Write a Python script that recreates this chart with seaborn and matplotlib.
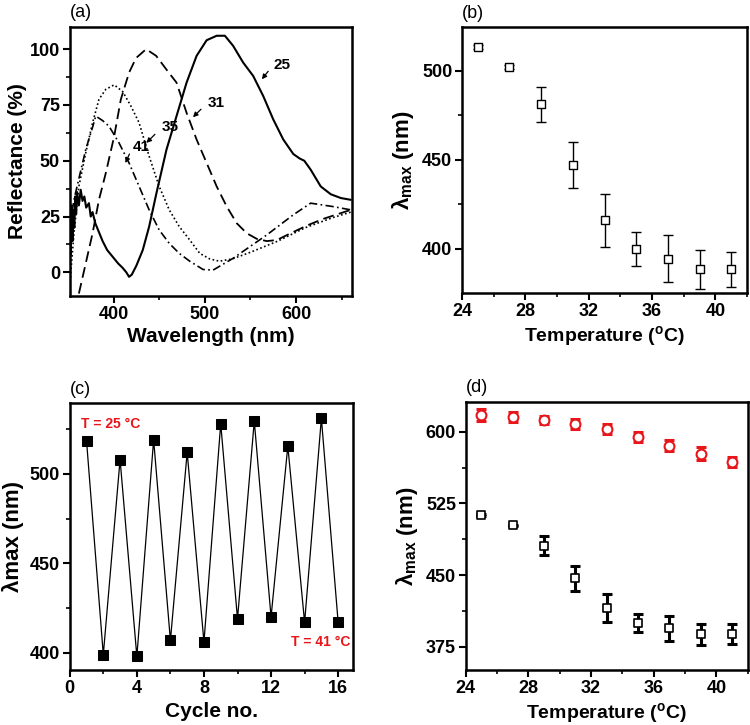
import numpy as np
import pandas as pd
import matplotlib
matplotlib.use("Agg")
import matplotlib.pyplot as plt
import seaborn as sns
from matplotlib.ticker import MultipleLocator

# ---------------- data ----------------
# (a) reflectance spectra (wavelength nm, reflectance %)
wl_25 = [352, 353, 354, 355, 356, 357, 358, 359, 360, 362, 364, 366, 368, 370, 373, 375, 377, 380, 384, 388, 393,
         399, 405, 410, 414, 417, 420, 425, 432, 439, 447, 458, 469, 480, 491, 502, 513, 522,
         531, 542, 553, 564, 575, 586, 597, 604, 609, 616, 627, 638, 649, 660]
r_25 = [25, 8, 30, 14, 28, 20, 34, 26, 36, 30, 37, 32, 34, 29, 31, 25, 27, 22, 18, 14, 10,
        7, 4, 2, 0, -2, -1, 3, 10, 20.5, 35.5, 55, 70, 85, 97, 104, 106, 106,
        101.5, 94, 88, 79, 68.5, 59.5, 53, 51, 50, 46, 38.5, 35, 33.3, 32.5]

wl_31 = [362, 369.5, 377, 384, 391.5, 400.7, 408, 417, 424.6, 435.7, 446.7, 457.7, 469, 480,
         491, 502, 513, 524, 535, 546, 557, 568, 579, 594, 612, 630, 660]
r_31 = [-9.5, 4, 17.5, 32.5, 44.5, 61, 77.5, 89.5, 96, 100, 97, 91, 85, 71.5,
        59.5, 49, 38.5, 29.5, 22, 17.5, 15, 14, 14.5, 17.5, 21, 24, 28]

wl_35 = [352, 356.6, 362, 369.5, 377, 384, 391.5, 400.7, 410, 419, 428, 439, 450, 461,
         472, 483.5, 494.5, 505.5, 516, 530, 550, 580, 610, 640, 660]
r_35 = [-6, 17.5, 38.5, 53.5, 67, 77.5, 82, 84, 81, 74.5, 67, 52, 38.5, 28,
        20.5, 14.5, 8.5, 6, 5, 6, 9, 14, 20, 24.5, 27]

wl_41 = [352, 356.6, 362, 369.5, 377, 380.5, 388, 395, 406, 417, 428, 439, 450, 461,
         472, 483.5, 498, 509, 531, 568, 597, 616, 640, 660]
r_41 = [20, 32.5, 42, 55, 65, 70, 68, 65.5, 58, 49, 38.5, 28, 19, 13,
        8.5, 5, 1.3, 1, 6.3, 16.8, 25.8, 31, 29.5, 28]

# (b)/(d) lambda_max vs temperature
temp = [25, 27, 29, 31, 33, 35, 37, 39, 41]
lam_first = [513, 502, 481, 447, 416, 400, 394.5, 388.5, 388.5]
err_first = [1.2, 1.0, 10, 13, 14.7, 9.5, 13, 11, 10]
lam_second = [617.5, 615.5, 612, 608, 603, 594.5, 585.5, 577, 568.5]
err_second = [6, 5.5, 4, 5, 5, 5.5, 6, 7, 5.5]

# (c) cycling
cycle = list(range(1, 17))
lam_cycle = [518.5, 399, 508, 398, 519, 407, 512, 406, 528, 419, 529.5, 420, 515.5, 417, 531, 417]

# ---------------- style ----------------
sns.set_theme(style="ticks")
plt.rcParams["font.family"] = ["Liberation Sans", "DejaVu Sans"]
plt.rcParams["font.weight"] = "bold"
plt.rcParams["axes.labelweight"] = "bold"
plt.rcParams["text.color"] = "black"
plt.rcParams["axes.labelcolor"] = "black"
plt.rcParams["xtick.color"] = "black"
plt.rcParams["ytick.color"] = "black"
plt.rcParams["mathtext.fontset"] = "custom"
plt.rcParams["mathtext.rm"] = "Liberation Sans:bold"
plt.rcParams["mathtext.it"] = "Liberation Sans:bold"
plt.rcParams["mathtext.bf"] = "Liberation Sans:bold"

RED = "#e8161b"
fig = plt.figure(figsize=(7.5, 7.25), dpi=100)

axA = fig.add_axes([0.093, 0.592, 0.376, 0.371])
axB = fig.add_axes([0.616, 0.596, 0.380, 0.367])
axC = fig.add_axes([0.093, 0.076, 0.378, 0.368])
axD = fig.add_axes([0.621, 0.076, 0.376, 0.370])


def style_ax(ax):
    for s in ax.spines.values():
        s.set_linewidth(1.8)
        s.set_color("black")
    ax.tick_params(which="major", direction="out", length=5, width=1.5,
                   labelsize=13, colors="black", labelcolor="black", pad=2)
    ax.tick_params(which="minor", direction="out", length=3, width=1.2, colors="black")
    for lab in ax.get_xticklabels() + ax.get_yticklabels():
        lab.set_fontweight("bold")


# ---- (a) ----
specs = [(wl_25, r_25, "-", 1.5), (wl_31, r_31, (0, (6, 3)), 1.3),
         (wl_35, r_35, (0, (1, 1.5)), 1.2), (wl_41, r_41, (0, (5, 2, 1, 2)), 1.2)]
for wl, r, ls, lw in specs:
    df = pd.DataFrame({"wl": wl, "r": r})
    sns.lineplot(data=df, x="wl", y="r", ax=axA, color="black", linestyle=ls,
                 linewidth=lw, sort=False, estimator=None)
axA.set_xlim(352, 661)
axA.set_ylim(-10.5, 110)
axA.xaxis.set_major_locator(MultipleLocator(100))
axA.xaxis.set_minor_locator(MultipleLocator(50))
axA.yaxis.set_major_locator(MultipleLocator(25))
axA.yaxis.set_minor_locator(MultipleLocator(12.5))
axA.set_xlabel("Wavelength (nm)", fontsize=15, fontweight="bold", labelpad=3)
axA.set_ylabel("Reflectance (%)", fontsize=15, fontweight="bold", labelpad=2)
arrow = dict(arrowstyle="-|>", color="black", lw=0.9, mutation_scale=7, shrinkA=0, shrinkB=0)
for txt, tx, ty, ax_, ay_ in [("25", 575, 93, 562.5, 86.5), ("31", 503, 76, 487, 69.5),
                              ("35", 453, 65, 436, 58), ("41", 421, 56.3, 413, 49)]:
    axA.annotate("", xy=(ax_, ay_), xytext=(ax_ + (tx - ax_) * 0.55, ay_ + (ty - ay_) * 0.55),
                 arrowprops=arrow)
    axA.text(tx, ty, txt, fontsize=11, fontweight="bold", color="black", ha="left", va="center")
style_ax(axA)

# ---- (b) ----
axB.errorbar(temp, lam_first, yerr=err_first, fmt="none", ecolor="black",
             elinewidth=1.0, capsize=3.5, capthick=1.0, zorder=2)
sns.scatterplot(x=temp, y=lam_first, ax=axB, marker="s", s=40, facecolor="white",
                edgecolor="black", linewidth=1.0, zorder=3)
axB.set_xlim(24, 42)
axB.set_ylim(375.3, 524.5)
axB.xaxis.set_major_locator(MultipleLocator(4))
axB.xaxis.set_minor_locator(MultipleLocator(2))
axB.yaxis.set_major_locator(MultipleLocator(50))
axB.yaxis.set_minor_locator(MultipleLocator(25))
axB.set_xlabel("Temperature ($^{\\rm o}$C)", fontsize=14, fontweight="bold", labelpad=3)
axB.set_ylabel("λ$_{\\rm max}$ (nm)", fontsize=16, fontweight="bold", labelpad=4)
style_ax(axB)

# ---- (c) ----
dfc = pd.DataFrame({"cycle": cycle, "lam": lam_cycle})
sns.lineplot(data=dfc, x="cycle", y="lam", ax=axC, color="black", linewidth=0.9,
             marker="s", markersize=7, markerfacecolor="black", markeredgecolor="black")
axC.set_xlim(0, 16.9)
axC.set_ylim(390.5, 539.5)
axC.xaxis.set_major_locator(MultipleLocator(4))
axC.xaxis.set_minor_locator(MultipleLocator(2))
axC.yaxis.set_major_locator(MultipleLocator(50))
axC.yaxis.set_minor_locator(MultipleLocator(25))
axC.set_xlabel("Cycle no.", fontsize=15, fontweight="bold", labelpad=4)
axC.set_ylabel("λmax (nm)", fontsize=16, fontweight="bold", labelpad=4)
axC.text(0.65, 528, "T = 25 °C", color=RED, fontsize=10, fontweight="bold", ha="left", va="center")
axC.text(16.75, 406, "T = 41 °C", color=RED, fontsize=10, fontweight="bold", ha="right", va="center")
style_ax(axC)

# ---- (d) ----
axD.errorbar(temp, lam_first, yerr=err_first, fmt="none", ecolor="black",
             elinewidth=2.2, capsize=3.5, capthick=2.2, zorder=2)
axD.errorbar(temp, lam_second, yerr=err_second, fmt="none", ecolor=RED,
             elinewidth=2.2, capsize=3.5, capthick=2.2, zorder=2)
sns.scatterplot(x=temp, y=lam_first, ax=axD, marker="s", s=32, facecolor="white",
                edgecolor="black", linewidth=1.2, zorder=3)
sns.scatterplot(x=temp, y=lam_second, ax=axD, marker="o", s=50, facecolor="white",
                edgecolor=RED, linewidth=1.5, zorder=3)
axD.set_xlim(24, 42)
axD.set_ylim(351, 631.5)
axD.xaxis.set_major_locator(MultipleLocator(4))
axD.xaxis.set_minor_locator(MultipleLocator(2))
axD.yaxis.set_major_locator(MultipleLocator(75))
axD.yaxis.set_minor_locator(MultipleLocator(37.5))
axD.set_xlabel("Temperature ($^{\\rm o}$C)", fontsize=14, fontweight="bold", labelpad=3)
axD.set_ylabel("λ$_{\\rm max}$ (nm)", fontsize=16, fontweight="bold", labelpad=4)
style_ax(axD)

# panel letters
for ax, letter in [(axA, "(a)"), (axB, "(b)"), (axC, "(c)"), (axD, "(d)")]:
    ax.text(0.0, 1.02, letter, transform=ax.transAxes, fontsize=13, fontweight="normal",
            color="black", ha="left", va="bottom")

fig.savefig("out.png", dpi=100)
